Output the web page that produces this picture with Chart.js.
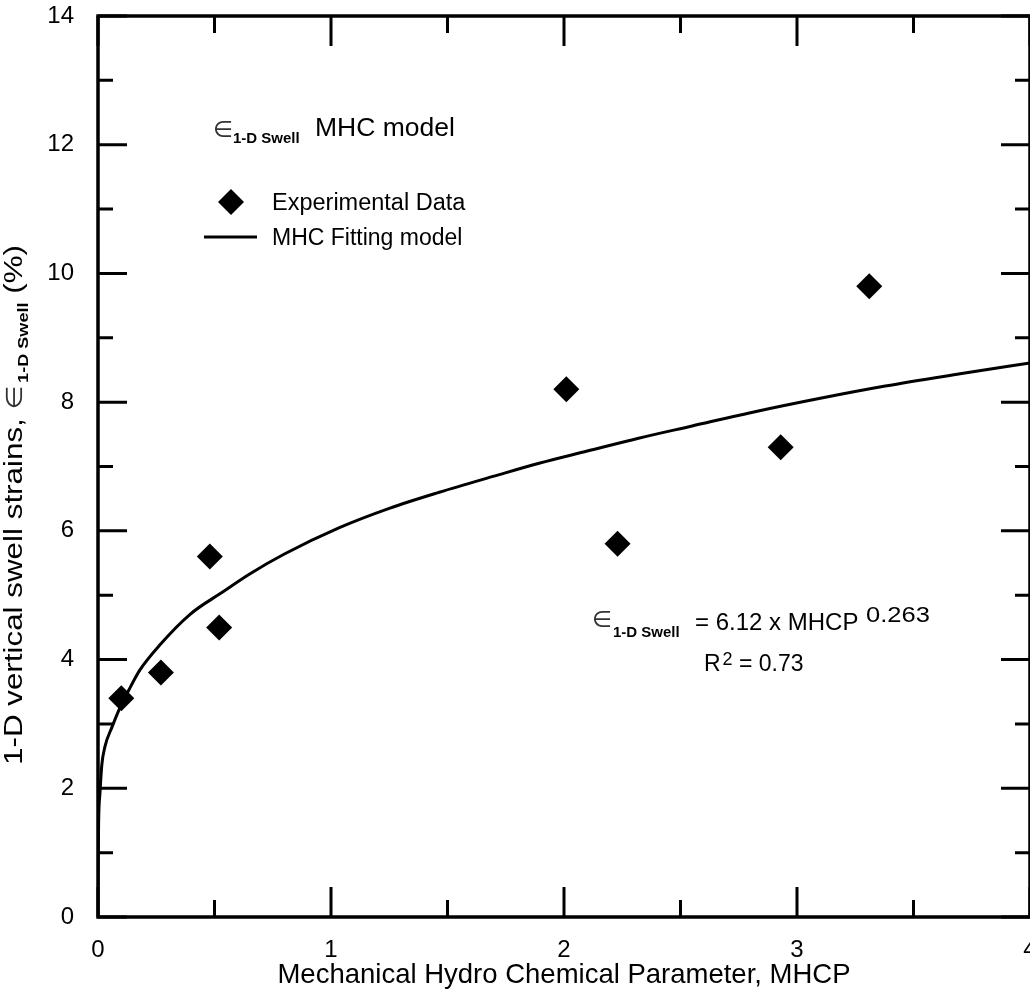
<!DOCTYPE html>
<html><head><meta charset="utf-8">
<script src="https://cdn.jsdelivr.net/npm/chart.js@4/dist/chart.umd.min.js"></script>
<style>html,body{margin:0;padding:0;background:#fff;overflow:hidden}#wrap{width:1030px;height:992px;overflow:hidden;position:relative}</style>
</head><body>
<div id="wrap"><canvas id="c" width="1043" height="992"></canvas></div>
<script>
// ---- data ----
const expX = [0.10, 0.27, 0.48, 0.52, 2.01, 2.23, 2.93, 3.31];
const expY = [3.40, 3.80, 5.60, 4.50, 8.20, 5.80, 7.30, 9.80];
const fitX = [0, 0.002, 0.008, 0.016, 0.03, 0.06, 0.094, 0.14, 0.18, 0.266, 0.394, 0.535, 0.651, 0.8, 1.036, 1.25, 1.465, 1.7, 1.893, 2.1, 2.32, 2.55, 2.805, 3.1, 3.379, 3.7, 4.0];
const fitY = [0, 1.3, 1.9, 2.35, 2.65, 2.95, 3.25, 3.58, 3.84, 4.23, 4.70, 5.05, 5.33, 5.64, 6.05, 6.35, 6.60, 6.85, 7.05, 7.24, 7.44, 7.63, 7.84, 8.06, 8.25, 8.44, 8.61];
const xTickLabels = ['0', '1', '2', '3', '4'];
const yTickLabels = ['0', '2', '4', '6', '8', '10', '12', '14'];
const seriesNames = ['Experimental Data', 'MHC Fitting model'];
const xTitle = 'Mechanical Hydro Chemical Parameter, MHCP';
const yTitleMain = '1-D vertical swell strains, ';
const yTitleTail = ' (%)';
const eps = '\u2208';
const sub = '1-D Swell';

const FONT = '"Liberation Sans", Arial, Helvetica, sans-serif';
const SYM = '"DejaVu Sans", sans-serif';

function fixFit(kind, size) {
  return function (s) {
    if (kind === 'x') { s.height = size; s.paddingLeft = 0; s.paddingRight = 0; }
    else { s.width = size; s.paddingTop = 0; s.paddingBottom = 0; }
  };
}

function put(ctx, t, x, y, font, color) {
  ctx.font = font; ctx.fillStyle = color || '#000';
  ctx.fillText(t, x, y);
  return ctx.measureText(t).width;
}

const decor = {
  id: 'decor',
  afterDraw(chart) {
    const ctx = chart.ctx, a = chart.chartArea;
    const xs = chart.scales.x, ys = chart.scales.y;
    ctx.save();
    // tick marks (inward, mirrored)
    ctx.strokeStyle = '#000'; ctx.lineWidth = 3; ctx.lineCap = 'butt';
    ctx.beginPath();
    xs.ticks.forEach(t => {
      const px = xs.getPixelForValue(t.value);
      const L = t.label !== '' ? 30 : 17;
      ctx.moveTo(px, a.bottom); ctx.lineTo(px, a.bottom - L);
      ctx.moveTo(px, a.top); ctx.lineTo(px, a.top + L);
    });
    ys.ticks.forEach(t => {
      const py = ys.getPixelForValue(t.value);
      const L = t.label !== '' ? 29 : 15;
      ctx.moveTo(a.left, py); ctx.lineTo(a.left + L, py);
      ctx.moveTo(a.right, py); ctx.lineTo(a.right - L, py);
    });
    ctx.stroke();
    ctx.lineWidth = 3.5;
    ctx.strokeRect(a.left, a.top, a.right - a.left, a.bottom - a.top);

    // y-axis title (rotated, with subscript), stretched along its length
    ctx.save();
    ctx.translate(22, 505);
    ctx.rotate(-Math.PI / 2);
    ctx.textBaseline = 'alphabetic';
    const mainF = '26px ' + FONT, symF = '23px ' + SYM, subF = 'bold 15px ' + FONT;
    ctx.font = mainF; const w1 = ctx.measureText(yTitleMain).width, w4 = ctx.measureText(yTitleTail).width;
    ctx.font = symF; const w2 = ctx.measureText(eps).width;
    ctx.font = subF; const w3 = ctx.measureText(sub).width;
    const total = w1 + w2 + w3 + w4 + 2;
    const sx = 520 / total;
    ctx.scale(sx, 1);
    let cx = -total / 2;
    cx += put(ctx, yTitleMain, cx, 0, mainF);
    cx += put(ctx, eps, cx, 0, symF, '#333');
    cx += 2;
    cx += put(ctx, sub, cx, 6, subF);
    put(ctx, yTitleTail, cx, 0, mainF);
    ctx.restore();

    // header annotation
    ctx.textBaseline = 'alphabetic';
    put(ctx, eps, 213, 137, '23px ' + SYM, '#333');
    put(ctx, sub, 233, 143, 'bold 15px ' + FONT);
    put(ctx, 'MHC model', 315, 136, '26.5px ' + FONT);

    // legend
    const ds0 = chart.data.datasets[0], ds1 = chart.data.datasets[1];
    ctx.fillStyle = ds0.backgroundColor;
    ctx.beginPath();
    ctx.moveTo(231 - 13, 202); ctx.lineTo(231, 189); ctx.lineTo(231 + 13, 202); ctx.lineTo(231, 215);
    ctx.closePath(); ctx.fill();
    put(ctx, ds0.label, 272, 210, '23.5px ' + FONT);
    ctx.strokeStyle = ds1.borderColor; ctx.lineWidth = ds1.borderWidth;
    ctx.beginPath(); ctx.moveTo(204, 237); ctx.lineTo(257, 237); ctx.stroke();
    put(ctx, ds1.label, 272, 245, '23px ' + FONT);

    // equation
    put(ctx, eps, 592, 627, '23px ' + SYM, '#333');
    put(ctx, sub, 613, 637, 'bold 15px ' + FONT);
    put(ctx, '= 6.12 x MHCP', 695, 630, '24px ' + FONT);
    ctx.save();
    ctx.translate(866, 622);
    ctx.scale(1.16, 1);
    put(ctx, '0.263', 0, 0, '22px ' + FONT);
    ctx.restore();
    let rx = 704;
    rx += put(ctx, 'R', rx, 671, '23px ' + FONT);
    rx += put(ctx, '2', rx + 2, 665, '18px ' + FONT) + 2;
    put(ctx, ' = 0.73', rx, 671, '23px ' + FONT);
    ctx.restore();
  }
};

new Chart(document.getElementById('c').getContext('2d'), {
  type: 'scatter',
  data: {
    datasets: [
      {
        label: seriesNames[0],
        data: expX.map((x, i) => ({ x: x, y: expY[i] })),
        pointStyle: 'rectRot', pointRadius: 13, pointHoverRadius: 13,
        backgroundColor: '#000', borderColor: '#000', borderWidth: 0,
        showLine: false, order: 1
      },
      {
        label: seriesNames[1],
        data: fitX.map((x, i) => ({ x: x, y: fitY[i] })),
        showLine: true, pointRadius: 0, pointHoverRadius: 0,
        borderColor: '#000', backgroundColor: '#000', borderWidth: 3,
        cubicInterpolationMode: 'monotone', fill: false, order: 2
      }
    ]
  },
  options: {
    responsive: false, animation: false, devicePixelRatio: 1,
    layout: { padding: { top: 16, right: 1, left: 0, bottom: 0 } },
    plugins: { legend: { display: false }, tooltip: { enabled: false } },
    scales: {
      x: {
        type: 'linear', position: 'bottom', min: 0, max: 4,
        grid: { display: false }, border: { display: false },
        ticks: {
          stepSize: 0.5, autoSkip: false, maxRotation: 0, padding: 11,
          color: '#000', font: { family: FONT, size: 24 },
          callback: v => (Number.isInteger(v) ? xTickLabels[v] : '')
        },
        title: { display: true, text: xTitle, color: '#000', font: { family: FONT, size: 27.5 }, padding: { top: 0, bottom: 0 } },
        afterFit: fixFit('x', 75)
      },
      y: {
        type: 'linear', position: 'left', min: 0, max: 14,
        grid: { display: false }, border: { display: false },
        ticks: {
          stepSize: 1, autoSkip: false, padding: 16,
          color: '#000', font: { family: FONT, size: 24 },
          callback: v => (v % 2 === 0 ? yTickLabels[v / 2] : '')
        },
        title: { display: false },
        afterFit: fixFit('y', 98)
      }
    }
  },
  plugins: [decor]
});
</script>
</body></html>
